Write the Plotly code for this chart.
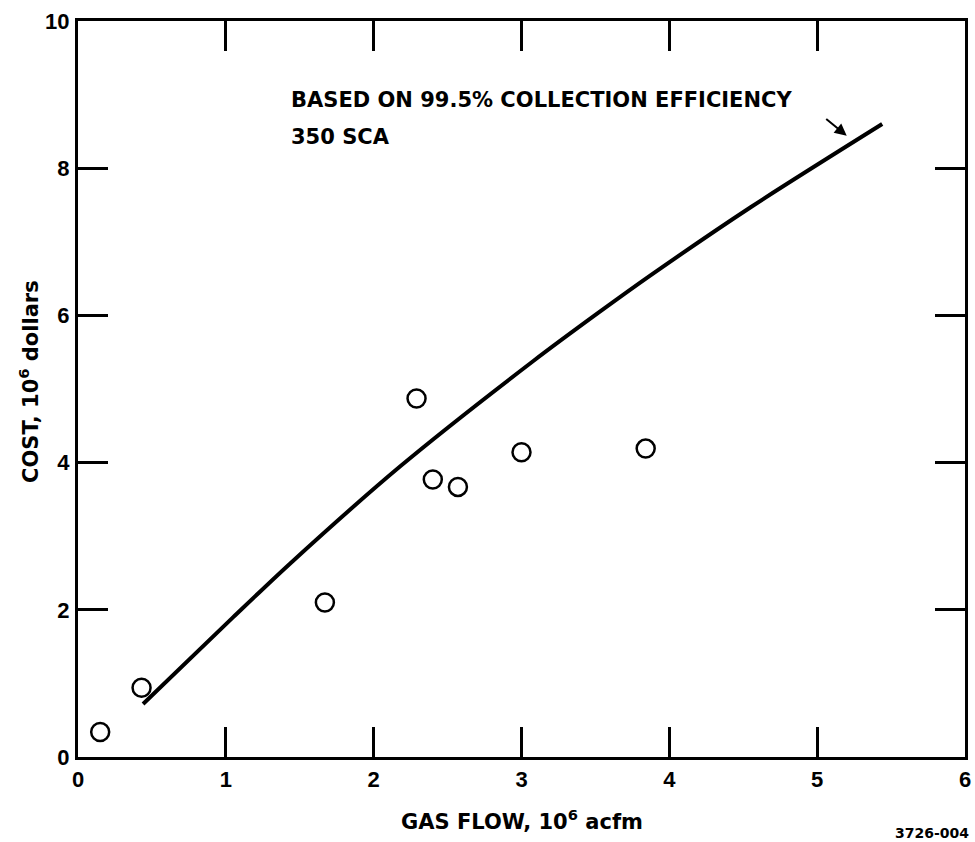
import plotly.graph_objects as go

# Data points (open circles)
pts_x = [0.15, 0.43, 1.67, 2.29, 2.40, 2.57, 3.00, 3.84]
pts_y = [0.34, 0.94, 2.10, 4.87, 3.77, 3.67, 4.14, 4.19]

# Curve (99.5% collection efficiency, 350 SCA)
curve_x = [0.44, 1.05, 1.43, 2.18, 3.08, 3.53, 3.87, 4.55, 5.44]
curve_y = [0.72, 1.90, 2.62, 3.95, 5.38, 6.05, 6.54, 7.47, 8.60]

x_ticks = [0, 1, 2, 3, 4, 5, 6]
y_ticks = [0, 2, 4, 6, 8, 10]

TICKFONT = "Liberation Sans, Arial, sans-serif"
TEXTFONT = "DejaVu Sans, Verdana, sans-serif"

fig = go.Figure()
fig.add_trace(go.Scatter(x=curve_x, y=curve_y, mode="lines",
                         line=dict(color="black", width=4, shape="spline", smoothing=0.8),
                         showlegend=False, hoverinfo="skip"))
fig.add_trace(go.Scatter(x=pts_x, y=pts_y, mode="markers",
                         marker=dict(symbol="circle-open", size=18, color="black",
                                     line=dict(width=2.5, color="black")),
                         showlegend=False))

axis_common = dict(showline=True, linewidth=3, linecolor="black", mirror="ticks",
                   ticks="inside", ticklen=30, tickwidth=3, tickcolor="black",
                   showgrid=False, zeroline=False, automargin=False,
                   tickfont=dict(family=TICKFONT, size=22, color="black"))

fig.update_xaxes(range=[0, 6], tickvals=x_ticks,
                 ticktext=["<b>%d</b>" % v for v in x_ticks],
                 ticklabelstandoff=1, **axis_common)
fig.update_yaxes(range=[0, 10], tickvals=y_ticks,
                 ticktext=["<b>%d</b>" % v for v in y_ticks],
                 ticklabelstandoff=1, **axis_common)

# Axis titles
fig.add_annotation(x=0.5, y=0, xref="paper", yref="paper", xanchor="center", yanchor="middle",
                   yshift=-63, showarrow=False,
                   text="<b>GAS FLOW, 10<sup>6</sup> acfm</b>",
                   font=dict(family=TEXTFONT, size=21, color="black"))
fig.add_annotation(x=-0.056, y=5.1, xref="paper", yref="y", xanchor="center", yanchor="middle",
                   textangle=-90, showarrow=False,
                   text="<b>COST, 10<sup>6</sup> dollars</b>",
                   font=dict(family=TEXTFONT, size=21, color="black"))

# Curve label (two lines)
fig.add_annotation(x=1.43, y=8.93, xref="x", yref="y", xanchor="left", yanchor="middle",
                   text="<b>BASED ON 99.5% COLLECTION EFFICIENCY</b>",
                   showarrow=False, font=dict(family=TEXTFONT, size=21, color="black"))
fig.add_annotation(x=1.43, y=8.42, xref="x", yref="y", xanchor="left", yanchor="middle",
                   text="<b>350 SCA</b>",
                   showarrow=False, font=dict(family=TEXTFONT, size=21, color="black"))
fig.add_annotation(x=5.20, y=8.44, xref="x", yref="y", ax=-22, ay=-18,
                   text="", showarrow=True, arrowhead=2, arrowsize=1.2, arrowwidth=2,
                   arrowcolor="black")
fig.add_annotation(x=1, y=0, xref="paper", yref="paper", xanchor="right", yanchor="middle",
                   xshift=6, yshift=-76,
                   text="<b>3726-004</b>", showarrow=False,
                   font=dict(family=TEXTFONT, size=14, color="black"))

fig.update_layout(width=975, height=842, margin=dict(l=78, r=10, t=21, b=85),
                  plot_bgcolor="white", paper_bgcolor="white")

fig.write_html("out.html")
